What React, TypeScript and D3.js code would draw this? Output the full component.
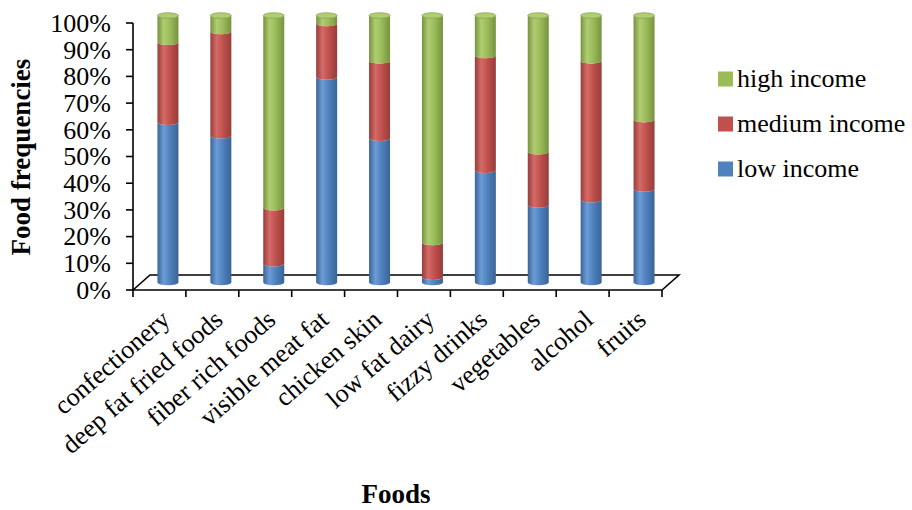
import React from 'react';
import * as d3 from 'd3';

const foods = [
  'confectionery', 'deep fat fried foods', 'fiber rich foods', 'visible meat fat', 'chicken skin',
  'low fat dairy', 'fizzy drinks', 'vegetables', 'alcohol', 'fruits',
];
const lowIncome = [60, 55, 7, 77, 54, 2, 42, 29, 31, 35];
const mediumIncome = [30, 39, 21, 20, 29, 13, 43, 20, 52, 26];
const highIncome = [10, 6, 72, 3, 17, 85, 15, 51, 17, 39];
const yTicks = [0, 10, 20, 30, 40, 50, 60, 70, 80, 90, 100];

const seriesKeys = ['low', 'medium', 'high'];
const seriesNames: Record<string, string> = { low: 'low income', medium: 'medium income', high: 'high income' };
const colors: Record<string, { base: string; edge: string; light: string }> = {
  low: { base: '#4F81BD', edge: '#3A6496', light: '#6C9CD6' },
  medium: { base: '#C0504D', edge: '#963D3A', light: '#D46B68' },
  high: { base: '#9BBB59', edge: '#769240', light: '#AFCD71' },
};

const FONT = 'Liberation Serif';

export default function App() {
  const width = 912;
  const height = 510;
  const dx = 17;
  const dy = -15;

  const x = d3.scaleBand<string>().domain(foods).range([133, 662]).padding(0);
  const y = d3.scaleLinear().domain([0, 100]).range([290, 23]);

  const rows = foods.map((f, i) => ({ food: f, low: lowIncome[i], medium: mediumIncome[i], high: highIncome[i] }));
  const stacked = d3.stack<any>().keys(seriesKeys)(rows);

  const rx = 10.5;
  const ry = 2.8;

  const segPath = (cx: number, yTop: number, yBot: number) =>
    `M${cx - rx},${yTop} A${rx},${ry} 0 0 0 ${cx + rx},${yTop} L${cx + rx},${yBot} A${rx},${ry} 0 0 1 ${cx - rx},${yBot} Z`;

  const x0 = x.range()[0];
  const x1 = x.range()[1];
  const y0 = y(0);

  return (
    <div style={{ position: 'absolute', left: 0, top: 0 }}>
      <svg width={width} height={height} style={{ display: 'block', background: '#fff' }}>
        <defs>
          {seriesKeys.map((k) => (
            <linearGradient key={k} id={`grad-${k}`} x1="0" x2="1" y1="0" y2="0">
              <stop offset="0%" stopColor={colors[k].edge} />
              <stop offset="30%" stopColor={colors[k].light} />
              <stop offset="60%" stopColor={colors[k].base} />
              <stop offset="100%" stopColor={colors[k].edge} />
            </linearGradient>
          ))}
        </defs>

        {/* floor */}
        <path
          d={`M${x0},${y0} L${x0 + dx},${y0 + dy} L${x1 + dx},${y0 + dy} L${x1},${y0} Z`}
          fill="#fff"
          stroke="#000"
          strokeWidth={1.6}
        />

        {/* cylinders */}
        {foods.map((f, i) => {
          const cx = (x(f) as number) + x.bandwidth() / 2 + dx / 2;
          return (
            <g key={f}>
              {stacked.map((s) => {
                const d = s[i];
                const yTop = y(d[1]) + dy / 2;
                const yBot = y(d[0]) + dy / 2;
                return <path key={s.key} d={segPath(cx, yTop, yBot)} fill={`url(#grad-${s.key})`} />;
              })}
              <ellipse cx={cx} cy={y(100) + dy / 2} rx={rx} ry={ry} fill={colors.high.light} stroke={colors.high.edge} strokeWidth={0.6} />
            </g>
          );
        })}

        {/* y axis */}
        <line x1={x0} x2={x0} y1={y(100)} y2={y0} stroke="#000" strokeWidth={1.6} />
        {yTicks.map((t) => (
          <g key={t}>
            <line x1={x0 - 7} x2={x0} y1={y(t)} y2={y(t)} stroke="#000" strokeWidth={1.6} />
            <text x={111} y={y(t)} dy="0.34em" textAnchor="end" fontFamily={FONT} fontSize={26} fill="#000">
              {t}%
            </text>
          </g>
        ))}

        {/* x axis ticks */}
        {[...foods.map((f) => x(f) as number), x1].map((tx, i) => (
          <line key={i} x1={tx} x2={tx} y1={y0} y2={y0 + 7} stroke="#000" strokeWidth={1.6} />
        ))}
        {foods.map((f) => {
          const cx = (x(f) as number) + x.bandwidth() / 2;
          return (
            <text
              key={f}
              transform={`translate(${cx + 12},${y0 + 32}) rotate(-41)`}
              textAnchor="end"
              fontFamily={FONT}
              fontSize={26}
              fill="#000"
            >
              {f}
            </text>
          );
        })}

        {/* axis titles */}
        <text x={396} y={503} textAnchor="middle" fontFamily={FONT} fontSize={27} fontWeight="bold" fill="#000">
          Foods
        </text>
        <text
          transform="translate(30,157) rotate(-90)"
          textAnchor="middle"
          fontFamily={FONT}
          fontSize={27}
          fontWeight="bold"
          fill="#000"
        >
          Food frequencies
        </text>

        {/* legend */}
        {['high', 'medium', 'low'].map((k, i) => (
          <g key={k} transform={`translate(718,${79 + i * 45})`}>
            <rect x={0} y={-7.5} width={15} height={15} fill={colors[k].base} />
            <text x={19} y={8} fontFamily={FONT} fontSize={26} fill="#000">
              {seriesNames[k]}
            </text>
          </g>
        ))}
      </svg>
    </div>
  );
}
